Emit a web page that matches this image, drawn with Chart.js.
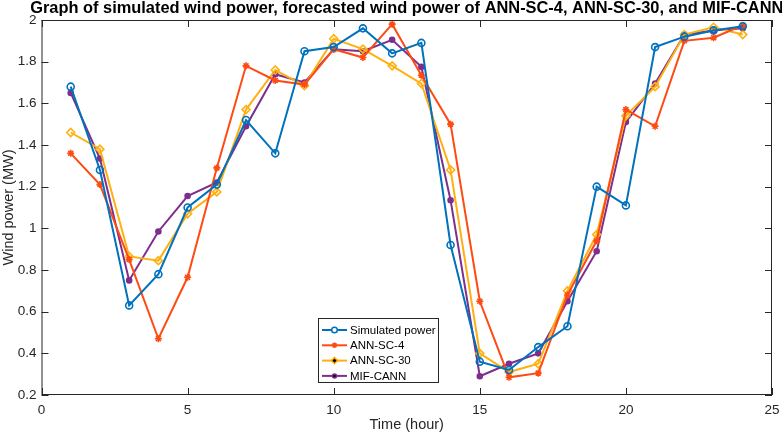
<!DOCTYPE html>
<html>
<head>
<meta charset="utf-8">
<script src="https://cdn.jsdelivr.net/npm/chart.js@4/dist/chart.umd.min.js"></script>
<style>
  html, body { margin: 0; padding: 0; background: #fff; }
  #wrap { width: 782px; height: 436px; position: relative; }
</style>
</head>
<body>
<div id="wrap"><canvas id="windChart"></canvas></div>
<script>
// hours and values
const hours = [1,2,3,4,5,6,7,8,9,10,11,12,13,14,15,16,17,18,19,20,21,22,23,24];
const simulated = [1.68,1.28,0.63,0.78,1.10,1.21,1.52,1.36,1.85,1.87,1.96,1.84,1.89,0.92,0.36,0.32,0.43,0.53,1.20,1.11,1.87,1.92,1.95,1.97];
const annSc4    = [1.36,1.21,0.85,0.47,0.765,1.29,1.78,1.71,1.69,1.86,1.82,1.98,1.735,1.50,0.65,0.285,0.305,0.68,0.94,1.57,1.49,1.90,1.915,1.975];
const annSc30   = [1.46,1.38,0.865,0.845,1.07,1.175,1.57,1.76,1.685,1.91,1.86,1.78,1.695,1.28,0.40,0.31,0.35,0.70,0.97,1.54,1.68,1.93,1.965,1.93];
const mifCann   = [1.65,1.335,0.75,0.985,1.155,1.22,1.49,1.74,1.70,1.86,1.85,1.905,1.775,1.135,0.29,0.35,0.40,0.65,0.89,1.51,1.695,1.93,1.95,1.96];

const toXY = arr => arr.map((v, i) => ({ x: hours[i], y: v }));

const titleText = 'Graph of simulated wind power, forecasted wind power of ANN-SC-4, ANN-SC-30, and MIF-CANN';
const fontFam = '"Liberation Sans", Arial, sans-serif';

// title, box with inward ticks and legend inside the plot (MATLAB look)
const matlabFrame = {
    id: 'matlabFrame',
    afterDraw(chart) {
        const c = chart.ctx;
        const a = chart.chartArea;
        const xs = chart.scales.x, ys = chart.scales.y;
        c.save();
        c.strokeStyle = '#262626';
        c.lineWidth = 1;
        c.strokeRect(a.left + 0.5, a.top + 0.5, a.right - a.left - 1, a.bottom - a.top - 1);
        xs.ticks.forEach(t => {
            const px = Math.round(xs.getPixelForValue(t.value)) + 0.5;
            c.beginPath();
            c.moveTo(px, a.bottom); c.lineTo(px, a.bottom - 7);
            c.moveTo(px, a.top); c.lineTo(px, a.top + 7);
            c.stroke();
        });
        ys.ticks.forEach(t => {
            const py = Math.round(ys.getPixelForValue(t.value)) + 0.5;
            c.beginPath();
            c.moveTo(a.left, py); c.lineTo(a.left + 7, py);
            c.moveTo(a.right, py); c.lineTo(a.right - 7, py);
            c.stroke();
        });

        // title
        c.fillStyle = '#000';
        c.font = 'bold 16.4px ' + fontFam;
        c.textAlign = 'center';
        c.textBaseline = 'middle';
        c.fillText(titleText, (a.left + a.right) / 2, 8);

        // legend
        const lx = 318, ly = 318, lw = 120, lh = 64;
        c.fillStyle = '#fff';
        c.fillRect(lx, ly, lw, lh);
        c.strokeStyle = '#262626';
        c.strokeRect(lx + 0.5, ly + 0.5, lw, lh);
        c.font = '11.5px ' + fontFam;
        c.textAlign = 'left';
        chart.data.datasets.forEach((ds, i) => {
            const y = 330 + i * 15.3;
            c.strokeStyle = ds.borderColor;
            c.lineWidth = 2;
            c.beginPath();
            c.moveTo(322, y); c.lineTo(347, y);
            c.stroke();
            c.lineWidth = 1.5;
            Chart.helpers.drawPoint(c, {
                pointStyle: ds.pointStyle,
                radius: ds.pointRadius * 0.8,
                rotation: 0,
                borderWidth: ds.pointBorderWidth
            }, 334.5, y);
            c.fillStyle = '#000';
            c.fillText(ds.label, 350, y + 0.5);
        });
        c.restore();
    }
};

function series(label, data, color, style, radius, filled) {
    return {
        label: label,
        data: toXY(data),
        borderColor: color,
        backgroundColor: filled ? color : 'rgba(0,0,0,0)',
        pointBackgroundColor: filled ? color : 'rgba(0,0,0,0)',
        pointBorderColor: color,
        pointStyle: style,
        pointRadius: radius,
        pointBorderWidth: 1.6,
        borderWidth: 2,
        tension: 0
    };
}

const fmt = v => String(Math.round(v * 10) / 10);

new Chart(document.getElementById('windChart'), {
    type: 'line',
    data: {
        datasets: [
            series('Simulated power', simulated, '#0072BD', 'circle', 3.5, false),
            series('ANN-SC-4', annSc4, '#FF4A12', 'star', 3.5, false),
            series('ANN-SC-30', annSc30, '#FFB010', 'rectRot', 4, false),
            series('MIF-CANN', mifCann, '#7E2F8E', 'circle', 2.5, true)
        ]
    },
    plugins: [matlabFrame],
    options: {
        responsive: true,
        maintainAspectRatio: false,
        animation: false,
        layout: { padding: { top: 20, right: 10, left: 0, bottom: 0 } },
        plugins: {
            legend: { display: false },
            tooltip: { enabled: false },
            title: { display: false }
        },
        scales: {
            x: {
                type: 'linear',
                min: 0, max: 25,
                border: { display: false },
                grid: { display: false, drawTicks: false },
                ticks: {
                    stepSize: 5,
                    color: '#262626',
                    padding: 7,
                    maxRotation: 0,
                    font: { family: fontFam, size: 13.5 },
                    callback: v => fmt(v)
                },
                title: {
                    display: true,
                    text: 'Time (hour)',
                    color: '#262626',
                    padding: { top: 1, bottom: 2 },
                    font: { family: fontFam, size: 14.5 }
                },
                afterFit: s => { s.height = 41; s.paddingLeft = 0; s.paddingRight = 0; }
            },
            y: {
                min: 0.2, max: 2,
                border: { display: false },
                grid: { display: false, drawTicks: false },
                ticks: {
                    stepSize: 0.2,
                    color: '#262626',
                    padding: 5,
                    font: { family: fontFam, size: 13.5 },
                    callback: v => fmt(v)
                },
                title: {
                    display: true,
                    text: 'Wind power (MW)',
                    color: '#262626',
                    padding: { top: 0, bottom: 0 },
                    font: { family: fontFam, size: 14.5 }
                },
                afterFit: s => { s.width = 41.5; s.paddingTop = 0; s.paddingBottom = 0; }
            }
        }
    }
});
</script>
</body>
</html>
